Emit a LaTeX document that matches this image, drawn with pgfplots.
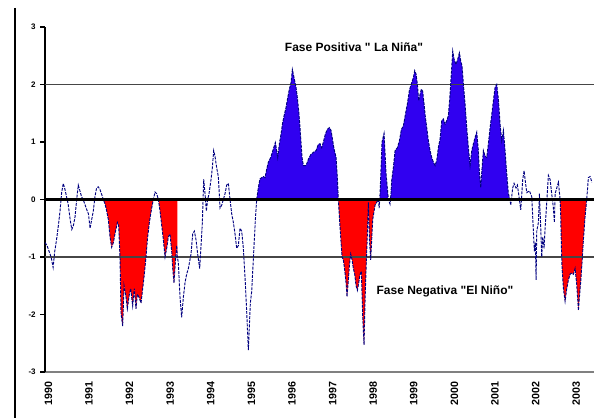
\documentclass[border=0pt]{standalone}
\usepackage{fontspec}
\setmainfont{Liberation Sans}[Ligatures=TeXOff]
\usepackage{pgfplots}
\usepackage{pgfplotstable}
\pgfplotsset{compat=1.18}
\usepgfplotslibrary{fillbetween}
\definecolor{lnblue}{RGB}{0,0,128}
\definecolor{areablue}{RGB}{48,0,240}
\definecolor{gridgray}{RGB}{70,70,70}

\pgfplotstableread{
x y
1990.00 -0.75
1990.05 -0.80
1990.10 -0.90
1990.15 -1.00
1990.20 -1.18
1990.24 -0.90
1990.28 -0.72
1990.33 -0.45
1990.37 -0.20
1990.41 0.12
1990.45 0.28
1990.49 0.18
1990.53 0.05
1990.57 -0.08
1990.62 -0.35
1990.66 -0.52
1990.70 -0.45
1990.74 -0.30
1990.78 0.00
1990.82 0.25
1990.86 0.15
1990.90 0.05
1990.95 -0.02
1990.99 -0.10
1991.03 -0.18
1991.07 -0.25
1991.11 -0.50
1991.15 -0.35
1991.19 -0.20
1991.23 0.05
1991.27 0.20
1991.31 0.22
1991.35 0.18
1991.40 0.08
1991.436 0.00
1991.48 -0.08
1991.519 -0.20
1991.560 -0.35
1991.601 -0.65
1991.642 -0.83
1991.683 -0.75
1991.724 -0.60
1991.782 -0.40
1991.814 -0.45
1991.847 -1.00
1991.872 -1.98
1991.913 -2.20
1991.946 -1.50
1991.995 -1.70
1992.028 -1.90
1992.077 -1.65
1992.110 -1.55
1992.159 -1.85
1992.200 -1.55
1992.241 -1.90
1992.274 -1.65
1992.315 -1.70
1992.365 -1.80
1992.406 -1.55
1992.438 -1.35
1992.488 -1.00
1992.521 -0.70
1992.570 -0.40
1992.627 -0.15
1992.668 0.00
1992.710 0.13
1992.751 0.10
1992.792 0.00
1992.833 -0.20
1992.874 -0.45
1992.915 -0.70
1992.956 -1.00
1992.997 -0.85
1993.038 -0.65
1993.079 -0.60
1993.120 -0.90
1993.145 -1.20
1993.177 -1.45
1993.210 -1.10
1993.243 -0.80
1993.259 -1.00
1993.284 -1.10
1993.325 -1.70
1993.366 -2.05
1993.407 -1.70
1993.448 -1.45
1993.488 -1.30
1993.530 -1.20
1993.596 -0.95
1993.637 -0.60
1993.678 -0.55
1993.719 -0.70
1993.760 -0.95
1993.809 -1.20
1993.842 -0.80
1993.875 -0.40
1993.908 0.35
1993.941 0.10
1993.974 -0.20
1994.006 0.00
1994.039 0.10
1994.089 0.35
1994.121 0.55
1994.154 0.85
1994.187 0.75
1994.228 0.55
1994.269 0.40
1994.310 -0.15
1994.351 -0.10
1994.392 0.00
1994.433 0.10
1994.474 0.25
1994.515 0.28
1994.557 0.00
1994.598 -0.25
1994.639 -0.40
1994.680 -0.60
1994.721 -0.85
1994.762 -0.80
1994.803 -0.50
1994.844 -0.55
1994.885 -0.85
1994.926 -1.35
1994.967 -1.95
1995.008 -2.62
1995.057 -1.80
1995.090 -1.60
1995.115 -1.25
1995.148 -0.80
1995.181 -0.35
1995.213 0.00
1995.254 0.21
1995.296 0.36
1995.378 0.40
1995.419 0.38
1995.460 0.53
1995.501 0.65
1995.558 0.73
1995.624 0.88
1995.673 0.99
1995.706 0.85
1995.731 0.73
1995.772 0.97
1995.813 1.14
1995.854 1.34
1995.895 1.48
1995.936 1.60
1995.977 1.77
1996.018 1.92
1996.059 2.03
1996.092 2.26
1996.116 2.18
1996.149 2.06
1996.182 1.95
1996.215 1.77
1996.256 1.48
1996.297 1.08
1996.330 0.73
1996.363 0.59
1996.429 0.59
1996.486 0.70
1996.544 0.78
1996.609 0.82
1996.675 0.85
1996.732 0.96
1996.773 0.97
1996.815 0.90
1996.856 1.00
1996.905 1.14
1996.954 1.22
1997.003 1.25
1997.045 1.20
1997.086 1.02
1997.118 0.88
1997.168 0.73
1997.200 0.39
1997.224 0.00
1997.249 -0.30
1997.282 -0.65
1997.315 -1.00
1997.348 -1.05
1997.381 -1.23
1997.414 -1.45
1997.438 -1.69
1997.471 -1.40
1997.496 -1.15
1997.529 -0.95
1997.562 -1.05
1997.594 -1.20
1997.627 -1.30
1997.660 -1.50
1997.693 -1.58
1997.726 -1.45
1997.759 -1.30
1997.791 -1.25
1997.824 -2.04
1997.857 -2.53
1997.882 -1.75
1997.906 -1.22
1997.939 -0.60
1997.964 -0.05
1997.990 -0.70
1998.021 -1.05
1998.070 -0.35
1998.128 -0.10
1998.210 0.00
1998.230 -0.15
1998.251 0.10
1998.300 1.00
1998.350 1.15
1998.399 0.45
1998.456 0.00
1998.497 -0.08
1998.520 0.10
1998.538 0.33
1998.580 0.56
1998.621 0.85
1998.678 0.90
1998.727 1.02
1998.777 1.22
1998.826 1.28
1998.875 1.48
1998.924 1.66
1998.974 1.90
1999.031 2.03
1999.072 2.12
1999.105 2.24
1999.138 2.18
1999.171 2.00
1999.204 1.72
1999.236 1.83
1999.269 1.92
1999.302 1.88
1999.335 1.66
1999.368 1.43
1999.401 1.25
1999.442 1.02
1999.483 0.85
1999.524 0.73
1999.565 0.65
1999.606 0.59
1999.647 0.68
1999.688 0.91
1999.729 1.05
1999.770 1.37
1999.811 1.40
1999.852 1.31
1999.893 1.37
1999.934 1.46
1999.975 1.83
2000.016 2.29
2000.041 2.58
2000.074 2.44
2000.123 2.35
2000.164 2.44
2000.205 2.55
2000.238 2.41
2000.271 2.32
2000.304 2.00
2000.345 1.66
2000.386 1.25
2000.427 0.90
2000.468 0.59
2000.509 0.85
2000.550 0.97
2000.591 1.08
2000.632 1.17
2000.673 0.85
2000.698 0.47
2000.731 0.21
2000.764 0.56
2000.796 0.85
2000.837 0.76
2000.878 0.73
2000.919 0.97
2000.961 1.25
2001.002 1.48
2001.043 1.72
2001.084 1.95
2001.125 2.00
2001.166 1.74
2001.207 1.31
2001.248 1.02
2001.289 1.20
2001.330 0.85
2001.371 0.45
2001.412 0.10
2001.453 0.00
2001.469 -0.10
2001.518 0.20
2001.552 0.28
2001.601 0.20
2001.634 0.25
2001.683 0.00
2001.716 -0.18
2001.765 0.35
2001.798 0.50
2001.823 0.35
2001.864 0.12
2001.929 0.15
2001.987 0.05
2002.027 -0.55
2002.052 -0.90
2002.076 -0.75
2002.094 -1.40
2002.110 -0.55
2002.151 -0.40
2002.175 0.10
2002.209 -0.50
2002.233 -1.00
2002.258 -0.65
2002.291 -0.85
2002.315 -0.50
2002.356 -0.05
2002.397 0.42
2002.438 0.35
2002.479 0.10
2002.520 -0.15
2002.545 -0.40
2002.562 0.10
2002.603 0.20
2002.644 0.30
2002.685 0.00
2002.701 -0.30
2002.718 -0.85
2002.734 -1.20
2002.767 -1.55
2002.808 -1.77
2002.849 -1.55
2002.890 -1.40
2002.931 -1.30
2002.972 -1.28
2003.013 -1.30
2003.054 -1.20
2003.095 -1.48
2003.136 -1.93
2003.161 -1.70
2003.194 -1.42
2003.227 -1.08
2003.259 -0.70
2003.300 -0.30
2003.341 0.00
2003.382 0.38
2003.424 0.40
2003.470 0.30
}\ensodata

\begin{document}
\begin{tikzpicture}
\begin{axis}[
  scale only axis,
  width=411.75pt, height=258.75pt,
  xmin=1990, xmax=2003.52, ymin=-3, ymax=3,
  axis x line*=bottom, axis y line*=left,
  x axis line style={draw=gray, line width=0.8pt},
  y axis line style={draw=black, line width=1.3pt},
  xtick={1990,1991,1992,1993,1994,1995,1996,1997,1998,1999,2000,2001,2002,2003},
  xticklabels={1990,1991,1992,1993,1994,1995,1996,1997,1998,1999,2000,2001,2002,2003},
  x tick label style={rotate=90, anchor=east, font=\fontsize{8}{9}\selectfont\bfseries, yshift=-2.5pt},
  x tick style={draw=none},
  ytick={-3,-2,-1,0,1,2,3},
  yticklabels={-3,-2,-1,0,1,2,3},
  y tick label style={font=\fontsize{6}{7}\selectfont\bfseries},
  y tick style={black, line width=0.8pt},
  tick align=outside, major tick length=3.5pt,
]
\addplot[name path=zero, draw=none] coordinates {(1990,0) (2003.52,0)};
\addplot[name path=data, draw=none] table[x=x, y=y] {\ensodata};

\addplot[fill=red, draw=none] fill between[of=data and zero, soft clip={domain=1991.436:1992.668}];
\addplot[fill=red, draw=none] fill between[of=data and zero, soft clip={domain=1992.792:1993.259}];
\addplot[fill=red, draw=none] fill between[of=data and zero, soft clip={domain=1997.224:1998.210}];
\addplot[fill=red, draw=none] fill between[of=data and zero, soft clip={domain=2002.685:2003.341}];
\addplot[fill=areablue, draw=none] fill between[of=data and zero, soft clip={domain=1995.213:1997.224}];
\addplot[fill=areablue, draw=none] fill between[of=data and zero, soft clip={domain=1998.240:1998.456}];
\addplot[fill=areablue, draw=none] fill between[of=data and zero, soft clip={domain=1998.510:2001.453}];

\addplot[gridgray, line width=0.9pt] coordinates {(1990,2) (2003.52,2)};
\addplot[gridgray, line width=0.9pt] coordinates {(1990,-1) (2003.52,-1)};

\addplot[lnblue, line width=0.7pt, dash pattern=on 2.2pt off 0.9pt] table[x=x, y=y] {\ensodata};

\addplot[black, line width=1.9pt] coordinates {(1990,0) (2003.52,0)};

\node[font=\fontsize{9}{10}\selectfont\bfseries] at (axis cs:1997.61,2.65) {Fase Positiva " La Niña"};
\node[font=\fontsize{9}{10}\selectfont\bfseries] at (axis cs:1999.85,-1.59) {Fase Negativa "El Niño"};
\end{axis}
\draw[line width=0.9pt] (-22.5pt,273pt) -- (-22.5pt,-34.5pt);
\pgfresetboundingbox
\useasboundingbox (-33.75pt,-34.5pt) rectangle (411.75pt,279pt);
\end{tikzpicture}
\end{document}
